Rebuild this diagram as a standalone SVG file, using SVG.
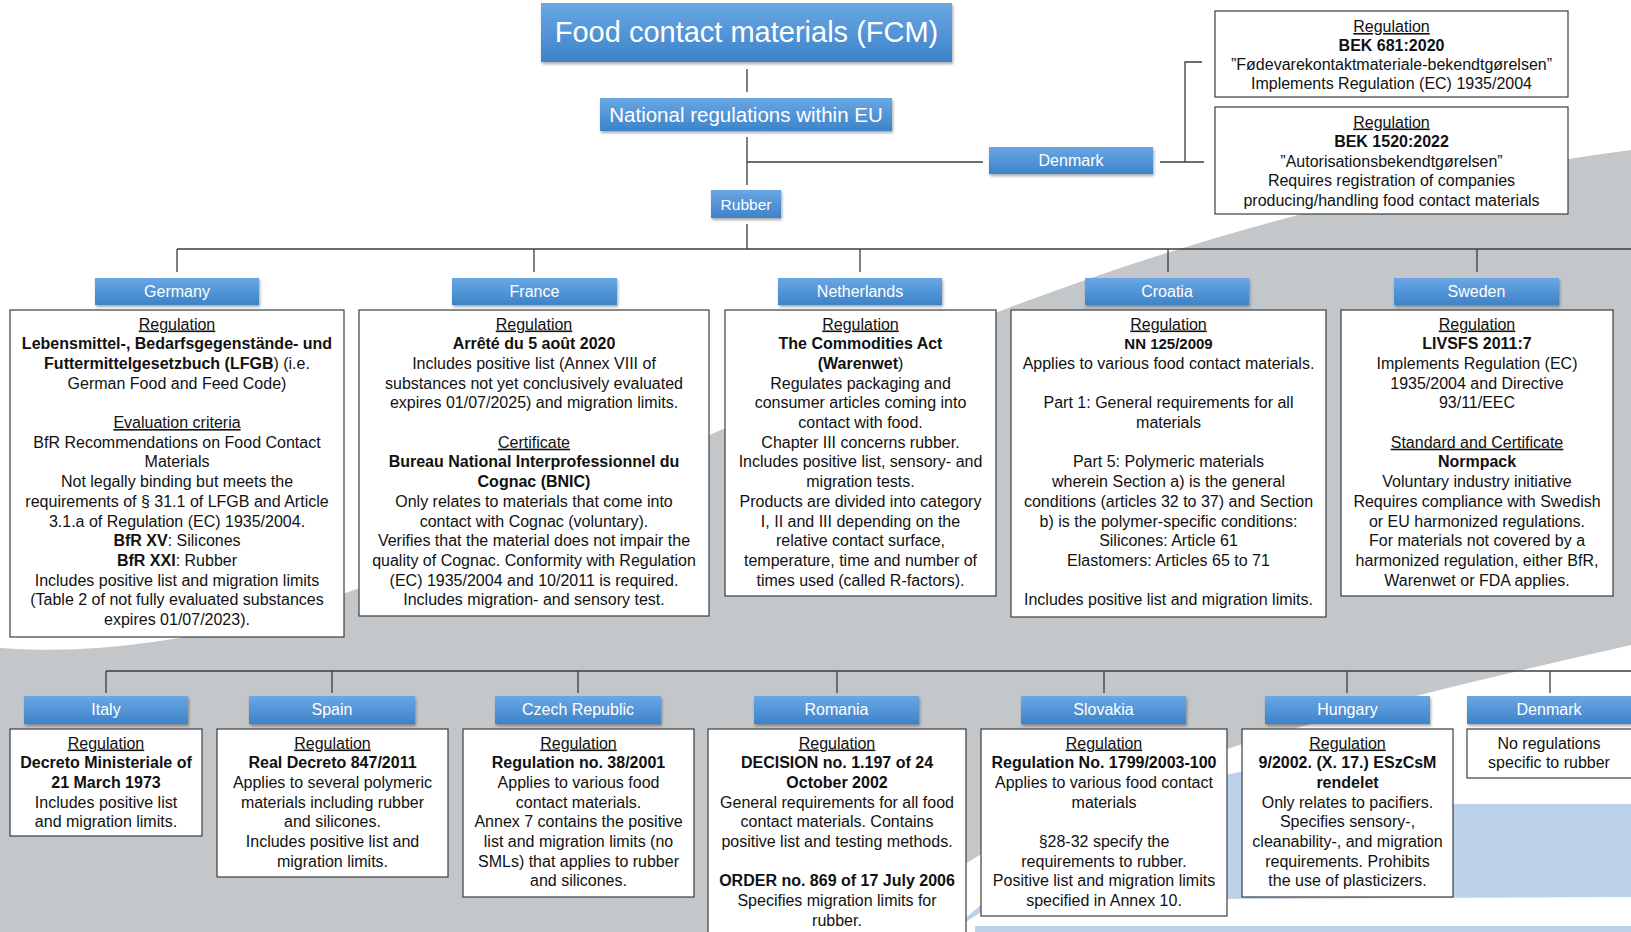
<svg xmlns="http://www.w3.org/2000/svg" width="1631" height="932" viewBox="0 0 1631 932">
<defs>
<linearGradient id="gBlue" x1="0" y1="0" x2="0" y2="1">
<stop offset="0" stop-color="#6aa7e4"/>
<stop offset="1" stop-color="#3d83c9"/>
</linearGradient>
<filter id="sh" x="-10%" y="-20%" width="130%" height="160%">
<feDropShadow dx="1" dy="2" stdDeviation="1.5" flood-color="#000" flood-opacity="0.35"/>
</filter>
<style>
.lbl rect{fill:url(#gBlue);filter:url(#sh)}
.lbl text{fill:#fff;font-family:"Liberation Sans",Arial,sans-serif;font-size:16px;text-anchor:middle}
.box rect{fill:#fff;stroke:#3c3c3c;stroke-width:1.2}
.box text{fill:#111;font-family:"Liberation Sans",Arial,sans-serif;font-size:16px;text-anchor:middle}
.b{font-weight:bold}
.u{text-decoration:underline}
.conn line,.conn path{stroke:#3c3c3c;stroke-width:1.3;fill:none}
</style>
</defs>

<!-- background -->
<rect x="0" y="0" width="1631" height="932" fill="#ffffff"/>
<path d="M0,648 C450,680 800,260 1631,150 L1631,932 L0,932 Z" fill="#c4c7c9"/>
<path d="M880,932 C1020,790 1300,720 1631,645 L1631,932 Z" fill="#ffffff"/>
<path d="M950,932 C1040,850 1140,790 1240,772 C1320,790 1400,803 1460,804 L1631,804 L1631,897 L1000,900 Z" fill="#bcd2e8"/>
<rect x="975" y="926" width="656" height="6" fill="#bcd2e8"/>

<!-- connectors -->
<g id="connectors" class="conn">
<line x1="747" y1="69" x2="747" y2="92"/>
<line x1="747" y1="137" x2="747" y2="185"/>
<line x1="747" y1="162" x2="983" y2="162"/>
<line x1="1160" y1="162" x2="1204" y2="162"/>
<path d="M1185,162 V62 H1202"/>
<line x1="747" y1="224" x2="747" y2="249"/>
<line x1="177" y1="249" x2="1631" y2="249"/>
<line x1="177" y1="249" x2="177" y2="272"/>
<line x1="534" y1="249" x2="534" y2="272"/>
<line x1="860" y1="249" x2="860" y2="272"/>
<line x1="1168" y1="249" x2="1168" y2="272"/>
<line x1="1477" y1="249" x2="1477" y2="272"/>
<line x1="106" y1="671" x2="1631" y2="671"/>
<line x1="106" y1="671" x2="106" y2="693"/>
<line x1="332" y1="671" x2="332" y2="693"/>
<line x1="578" y1="671" x2="578" y2="693"/>
<line x1="837" y1="671" x2="837" y2="693"/>
<line x1="1104" y1="671" x2="1104" y2="693"/>
<line x1="1347" y1="671" x2="1347" y2="693"/>
<line x1="1550" y1="671" x2="1550" y2="693"/>
</g>

<!-- top hierarchy -->
<g id="fcm" class="lbl"><rect x="541" y="3" width="411" height="59"/><text x="746.5" y="42" style="font-size:29px">Food contact materials (FCM)</text></g>
<g id="national" class="lbl"><rect x="600" y="98" width="292" height="33"/><text x="746" y="122" style="font-size:20.5px">National regulations within EU</text></g>
<g id="rubber" class="lbl"><rect x="711" y="190" width="70" height="28"/><text x="746" y="210" style="font-size:15.5px">Rubber</text></g>
<g id="denmark-top" class="lbl"><rect x="989" y="147" width="164" height="27"/><text x="1071" y="166">Denmark</text></g>

<g id="dk-reg1" class="box"><rect x="1215" y="11" width="353" height="86"/>
<text x="1391.5" y="32"><tspan class="u">Regulation</tspan><tspan x="1391.5" dy="19" class="b">BEK 681:2020</tspan><tspan x="1391.5" dy="19">”Fødevarekontaktmateriale-bekendtgørelsen”</tspan><tspan x="1391.5" dy="19">Implements Regulation (EC) 1935/2004</tspan></text></g>
<g id="dk-reg2" class="box"><rect x="1215" y="107" width="353" height="107"/>
<text x="1391.5" y="127.5"><tspan class="u">Regulation</tspan><tspan x="1391.5" dy="19.5" class="b">BEK 1520:2022</tspan><tspan x="1391.5" dy="19.5">”Autorisationsbekendtgørelsen”</tspan><tspan x="1391.5" dy="19.5">Requires registration of companies</tspan><tspan x="1391.5" dy="19.5">producing/handling food contact materials</tspan></text></g>

<!-- row 1 -->
<g id="germany">
<g class="lbl"><rect x="95" y="278" width="164" height="27"/><text x="177" y="297">Germany</text></g>
<g class="box"><rect x="10" y="310" width="334" height="327"/>
<text x="177" y="329.5"><tspan class="u">Regulation</tspan><tspan x="177" dy="19.7" class="b">Lebensmittel-, Bedarfsgegenstände- und</tspan><tspan x="177" dy="19.7"><tspan class="b">Futtermittelgesetzbuch (LFGB</tspan>) (i.e.</tspan><tspan x="177" dy="19.7">German Food and Feed Code)</tspan><tspan x="177" dy="39.4" class="u">Evaluation criteria</tspan><tspan x="177" dy="19.7">BfR Recommendations on Food Contact</tspan><tspan x="177" dy="19.7">Materials</tspan><tspan x="177" dy="19.7">Not legally binding but meets the</tspan><tspan x="177" dy="19.7">requirements of § 31.1 of LFGB and Article</tspan><tspan x="177" dy="19.7">3.1.a of Regulation (EC) 1935/2004.</tspan><tspan x="177" dy="19.7"><tspan class="b">BfR XV</tspan>: Silicones</tspan><tspan x="177" dy="19.7"><tspan class="b">BfR XXI</tspan>: Rubber</tspan><tspan x="177" dy="19.7">Includes positive list and migration limits</tspan><tspan x="177" dy="19.7">(Table 2 of not fully evaluated substances</tspan><tspan x="177" dy="19.7">expires 01/07/2023).</tspan></text></g>
</g>

<g id="france">
<g class="lbl"><rect x="452" y="278" width="165" height="27"/><text x="534.5" y="297">France</text></g>
<g class="box"><rect x="359" y="310" width="350" height="306"/>
<text x="534" y="329.5"><tspan class="u">Regulation</tspan><tspan x="534" dy="19.7" class="b">Arrêté du 5 août 2020</tspan><tspan x="534" dy="19.7">Includes positive list (Annex VIII of</tspan><tspan x="534" dy="19.7">substances not yet conclusively evaluated</tspan><tspan x="534" dy="19.7">expires 01/07/2025) and migration limits.</tspan><tspan x="534" dy="39.4" class="u">Certificate</tspan><tspan x="534" dy="19.7" class="b">Bureau National Interprofessionnel du</tspan><tspan x="534" dy="19.7" class="b">Cognac (BNIC)</tspan><tspan x="534" dy="19.7">Only relates to materials that come into</tspan><tspan x="534" dy="19.7">contact with Cognac (voluntary).</tspan><tspan x="534" dy="19.7">Verifies that the material does not impair the</tspan><tspan x="534" dy="19.7">quality of Cognac. Conformity with Regulation</tspan><tspan x="534" dy="19.7">(EC) 1935/2004 and 10/2011 is required.</tspan><tspan x="534" dy="19.7">Includes migration- and sensory test.</tspan></text></g>
</g>

<g id="netherlands">
<g class="lbl"><rect x="778" y="278" width="164" height="27"/><text x="860" y="297">Netherlands</text></g>
<g class="box"><rect x="725" y="310" width="271" height="286"/>
<text x="860.5" y="329.5"><tspan class="u">Regulation</tspan><tspan x="860.5" dy="19.7" class="b">The Commodities Act</tspan><tspan x="860.5" dy="19.7"><tspan class="b">(Warenwet</tspan>)</tspan><tspan x="860.5" dy="19.7">Regulates packaging and</tspan><tspan x="860.5" dy="19.7">consumer articles coming into</tspan><tspan x="860.5" dy="19.7">contact with food.</tspan><tspan x="860.5" dy="19.7">Chapter III concerns rubber.</tspan><tspan x="860.5" dy="19.7">Includes positive list, sensory- and</tspan><tspan x="860.5" dy="19.7">migration tests.</tspan><tspan x="860.5" dy="19.7">Products are divided into category</tspan><tspan x="860.5" dy="19.7">I, II and III depending on the</tspan><tspan x="860.5" dy="19.7">relative contact surface,</tspan><tspan x="860.5" dy="19.7">temperature, time and number of</tspan><tspan x="860.5" dy="19.7">times used (called R-factors).</tspan></text></g>
</g>

<g id="croatia">
<g class="lbl"><rect x="1085" y="278" width="164" height="27"/><text x="1167" y="297">Croatia</text></g>
<g class="box"><rect x="1011" y="310" width="315" height="307"/>
<text x="1168.5" y="329.5"><tspan class="u">Regulation</tspan><tspan x="1168.5" dy="19.7" class="b" style="font-size:15px">NN 125/2009</tspan><tspan x="1168.5" dy="19.7">Applies to various food contact materials.</tspan><tspan x="1168.5" dy="39.4">Part 1: General requirements for all</tspan><tspan x="1168.5" dy="19.7">materials</tspan><tspan x="1168.5" dy="39.4">Part 5: Polymeric materials</tspan><tspan x="1168.5" dy="19.7">wherein Section a) is the general</tspan><tspan x="1168.5" dy="19.7">conditions (articles 32 to 37) and Section</tspan><tspan x="1168.5" dy="19.7">b) is the polymer-specific conditions:</tspan><tspan x="1168.5" dy="19.7">Silicones: Article 61</tspan><tspan x="1168.5" dy="19.7">Elastomers: Articles 65 to 71</tspan><tspan x="1168.5" dy="39.4">Includes positive list and migration limits.</tspan></text></g>
</g>

<g id="sweden">
<g class="lbl"><rect x="1394" y="278" width="165" height="27"/><text x="1476.5" y="297">Sweden</text></g>
<g class="box"><rect x="1341" y="310" width="272" height="286"/>
<text x="1477" y="329.5"><tspan class="u">Regulation</tspan><tspan x="1477" dy="19.7" class="b">LIVSFS 2011:7</tspan><tspan x="1477" dy="19.7">Implements Regulation (EC)</tspan><tspan x="1477" dy="19.7">1935/2004 and Directive</tspan><tspan x="1477" dy="19.7">93/11/EEC</tspan><tspan x="1477" dy="39.4" class="u">Standard and Certificate</tspan><tspan x="1477" dy="19.7" class="b">Normpack</tspan><tspan x="1477" dy="19.7">Voluntary industry initiative</tspan><tspan x="1477" dy="19.7">Requires compliance with Swedish</tspan><tspan x="1477" dy="19.7">or EU harmonized regulations.</tspan><tspan x="1477" dy="19.7">For materials not covered by a</tspan><tspan x="1477" dy="19.7">harmonized regulation, either BfR,</tspan><tspan x="1477" dy="19.7">Warenwet or FDA applies.</tspan></text></g>
</g>

<!-- row 2 -->
<g id="italy">
<g class="lbl"><rect x="24" y="696" width="164" height="28"/><text x="106" y="715">Italy</text></g>
<g class="box"><rect x="10" y="729" width="192" height="107"/>
<text x="106" y="748.5"><tspan class="u">Regulation</tspan><tspan x="106" dy="19.7" class="b">Decreto Ministeriale of</tspan><tspan x="106" dy="19.7" class="b">21 March 1973</tspan><tspan x="106" dy="19.7">Includes positive list</tspan><tspan x="106" dy="19.7">and migration limits.</tspan></text></g>
</g>

<g id="spain">
<g class="lbl"><rect x="249" y="696" width="166" height="28"/><text x="332" y="715">Spain</text></g>
<g class="box"><rect x="217" y="729" width="231" height="148"/>
<text x="332.5" y="748.5"><tspan class="u">Regulation</tspan><tspan x="332.5" dy="19.7" class="b">Real Decreto 847/2011</tspan><tspan x="332.5" dy="19.7">Applies to several polymeric</tspan><tspan x="332.5" dy="19.7">materials including rubber</tspan><tspan x="332.5" dy="19.7">and silicones.</tspan><tspan x="332.5" dy="19.7">Includes positive list and</tspan><tspan x="332.5" dy="19.7">migration limits.</tspan></text></g>
</g>

<g id="czech">
<g class="lbl"><rect x="495" y="696" width="166" height="28"/><text x="578" y="715">Czech Republic</text></g>
<g class="box"><rect x="463" y="729" width="231" height="168"/>
<text x="578.5" y="748.5"><tspan class="u">Regulation</tspan><tspan x="578.5" dy="19.7" class="b">Regulation no. 38/2001</tspan><tspan x="578.5" dy="19.7">Applies to various food</tspan><tspan x="578.5" dy="19.7">contact materials.</tspan><tspan x="578.5" dy="19.7">Annex 7 contains the positive</tspan><tspan x="578.5" dy="19.7">list and migration limits (no</tspan><tspan x="578.5" dy="19.7">SMLs) that applies to rubber</tspan><tspan x="578.5" dy="19.7">and silicones.</tspan></text></g>
</g>

<g id="romania">
<g class="lbl"><rect x="754" y="696" width="165" height="28"/><text x="836.5" y="715">Romania</text></g>
<g class="box"><rect x="708" y="729" width="258" height="215"/>
<text x="837" y="748.5"><tspan class="u">Regulation</tspan><tspan x="837" dy="19.7" class="b">DECISION no. 1.197 of 24</tspan><tspan x="837" dy="19.7" class="b">October 2002</tspan><tspan x="837" dy="19.7">General requirements for all food</tspan><tspan x="837" dy="19.7">contact materials. Contains</tspan><tspan x="837" dy="19.7">positive list and testing methods.</tspan><tspan x="837" dy="39.4" class="b">ORDER no. 869 of 17 July 2006</tspan><tspan x="837" dy="19.7">Specifies migration limits for</tspan><tspan x="837" dy="19.7">rubber.</tspan></text></g>
</g>

<g id="slovakia">
<g class="lbl"><rect x="1021" y="696" width="165" height="28"/><text x="1103.5" y="715">Slovakia</text></g>
<g class="box"><rect x="981" y="729" width="246" height="187"/>
<text x="1104" y="748.5"><tspan class="u">Regulation</tspan><tspan x="1104" dy="19.7" class="b">Regulation No. 1799/2003-100</tspan><tspan x="1104" dy="19.7">Applies to various food contact</tspan><tspan x="1104" dy="19.7">materials</tspan><tspan x="1104" dy="39.4">§28-32 specify the</tspan><tspan x="1104" dy="19.7">requirements to rubber.</tspan><tspan x="1104" dy="19.7">Positive list and migration limits</tspan><tspan x="1104" dy="19.7">specified in Annex 10.</tspan></text></g>
</g>

<g id="hungary">
<g class="lbl"><rect x="1265" y="696" width="165" height="28"/><text x="1347.5" y="715">Hungary</text></g>
<g class="box"><rect x="1242" y="729" width="211" height="168"/>
<text x="1347.5" y="748.5"><tspan class="u">Regulation</tspan><tspan x="1347.5" dy="19.7" class="b">9/2002. (X. 17.) ESzCsM</tspan><tspan x="1347.5" dy="19.7" class="b">rendelet</tspan><tspan x="1347.5" dy="19.7">Only relates to pacifiers.</tspan><tspan x="1347.5" dy="19.7">Specifies sensory-,</tspan><tspan x="1347.5" dy="19.7">cleanability-, and migration</tspan><tspan x="1347.5" dy="19.7">requirements. Prohibits</tspan><tspan x="1347.5" dy="19.7">the use of plasticizers.</tspan></text></g>
</g>

<g id="denmark-bottom">
<g class="lbl"><rect x="1467" y="696" width="170" height="28"/><text x="1549" y="715">Denmark</text></g>
<g class="box"><rect x="1467" y="729" width="175" height="49"/>
<text x="1549" y="748.5"><tspan>No regulations</tspan><tspan x="1549" dy="19.7">specific to rubber</tspan></text></g>
</g>
</svg>
